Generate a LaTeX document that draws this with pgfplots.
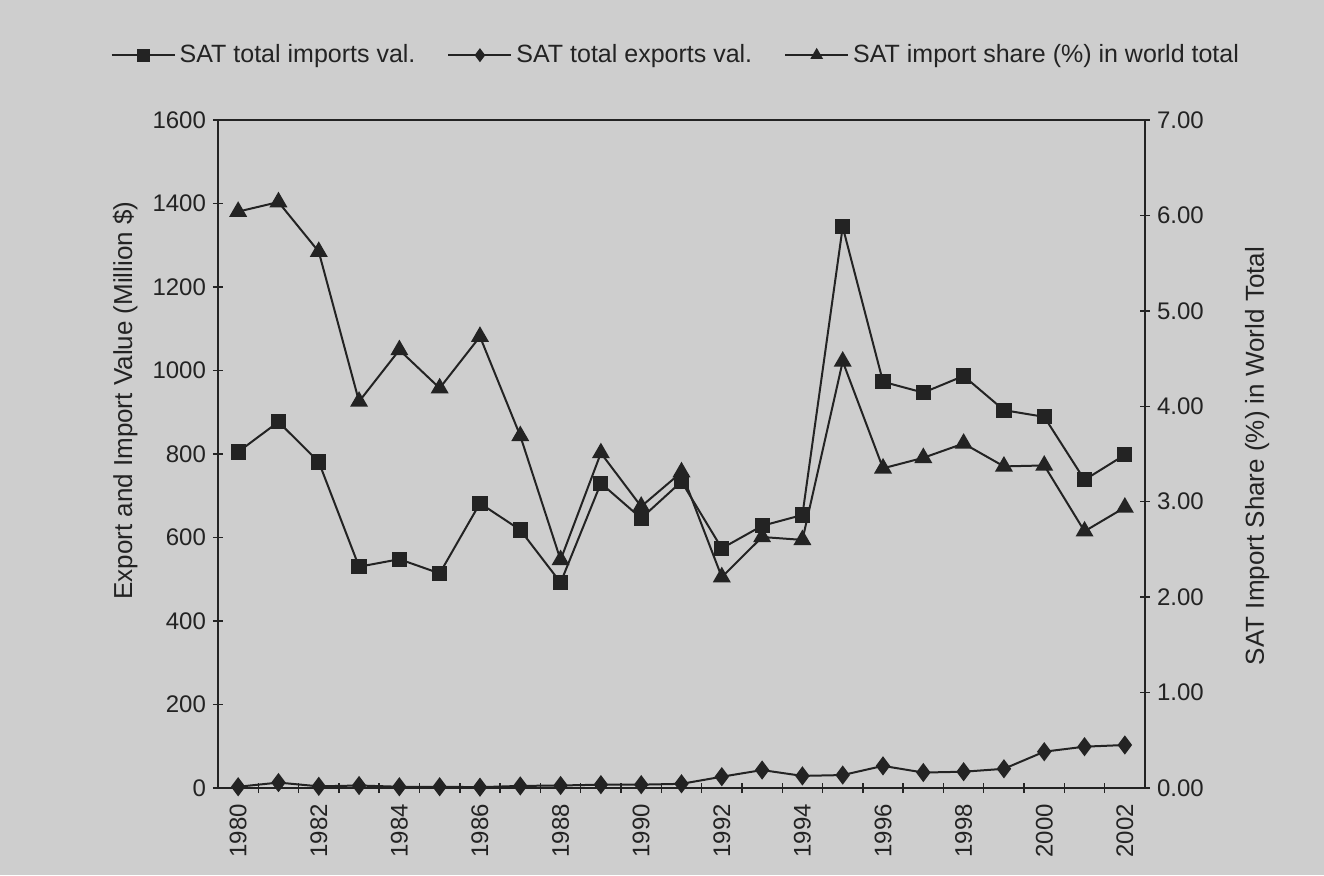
\documentclass[border=0pt]{standalone}
\usepackage{fontspec}
\setmainfont{Liberation Sans}
\usepackage{pgfplots}
\pgfplotsset{compat=1.18}
\definecolor{scan}{RGB}{206,206,206}
\definecolor{ink}{RGB}{35,35,35}

\begin{document}
\begin{tikzpicture}[font=\fontsize{12}{14}\selectfont]
\path[use as bounding box, fill=scan] (-109pt,-43.5pt) rectangle (553pt,394pt);
\pgfplotsset{
  every axis/.append style={
    scale only axis, width=463.5pt, height=334pt,
    at={(0,0)}, anchor=south west,
    xmin=1979.5, xmax=2002.5,
    /pgf/number format/assume math mode=true,
    /pgf/number format/1000 sep={},
    tick align=center,
    major tick length=5pt,
    axis line style={ink, line width=0.7pt},
    every tick/.style={ink, line width=0.7pt},
    tick label style={text=ink, font=\fontsize{12}{14}\selectfont},
    label style={text=ink, font=\fontsize{13}{15}\selectfont},
  },
}
\begin{axis}[
  ymin=0, ymax=1600,
  ytick={0,200,...,1600},
  ytick pos=left,
  xtick={1980,1982,...,2002},
  major x tick style={draw=none},
  minor xtick={1980.5,1981.5,...,2001.5},
  minor tick length=5pt,
  xtick pos=bottom,
  xticklabel style={rotate=90, anchor=east},
  xticklabel shift=2pt,
  ylabel={Export and Import Value (Million \$)},
  ylabel style={at={(axis description cs:-0.1,0.58)}, anchor=center},
]
% SAT total imports val.
\addplot[ink, line width=1pt, mark=square*, mark size=3.3pt] coordinates {
  (1980,805) (1981,877) (1982,781) (1983,530) (1984,548) (1985,514)
  (1986,682) (1987,618) (1988,492) (1989,730) (1990,646) (1991,734)
  (1992,574) (1993,628) (1994,654) (1995,1344) (1996,973) (1997,947)
  (1998,987) (1999,905) (2000,889) (2001,738) (2002,798)
};
% SAT total exports val.
\addplot[ink, line width=1pt, mark=diamond*, mark size=4pt] coordinates {
  (1980,3) (1981,13) (1982,4) (1983,6) (1984,3) (1985,3)
  (1986,2) (1987,5) (1988,6) (1989,8) (1990,8) (1991,10)
  (1992,27) (1993,43) (1994,29) (1995,31) (1996,53) (1997,37)
  (1998,39) (1999,46) (2000,87) (2001,99) (2002,103)
};
\end{axis}
\begin{axis}[
  axis x line=none,
  axis y line*=right,
  ymin=0, ymax=7,
  ytick={0,1,...,7},
  yticklabel style={/pgf/number format/.cd, fixed, fixed zerofill, precision=2},
  ylabel={SAT Import Share (\%) in World Total},
  ylabel style={at={(axis description cs:1.121,0.497)}, anchor=center},
  legend columns=3,
  legend style={at={(0.495,1.097)}, anchor=center, draw=none, fill=none,
    font=\fontsize{12.5}{14}\selectfont, text=ink,
    /tikz/every even column/.append style={column sep=14pt}},
  legend image code/.code={
    \draw[mark repeat=2, mark phase=2, mark size=2.7pt]
      plot coordinates {(0pt,0pt) (15.75pt,0pt) (31.5pt,0pt)};
  },
]
\addlegendimage{ink, line width=1pt, mark=square*}
\addlegendentry{SAT total imports val.}
\addlegendimage{ink, line width=1pt, mark=diamond*}
\addlegendentry{SAT total exports val.}
% SAT import share (%) in world total
\addplot[ink, line width=1pt, mark=triangle*, mark size=4.2pt] coordinates {
  (1980,6.04) (1981,6.14) (1982,5.62) (1983,4.05) (1984,4.59) (1985,4.19)
  (1986,4.73) (1987,3.69) (1988,2.39) (1989,3.51) (1990,2.95) (1991,3.31)
  (1992,2.21) (1993,2.63) (1994,2.60) (1995,4.47) (1996,3.35) (1997,3.46)
  (1998,3.61) (1999,3.37) (2000,3.38) (2001,2.69) (2002,2.94)
};
\addlegendentry{SAT import share (\%) in world total}
\end{axis}
\end{tikzpicture}
\end{document}
